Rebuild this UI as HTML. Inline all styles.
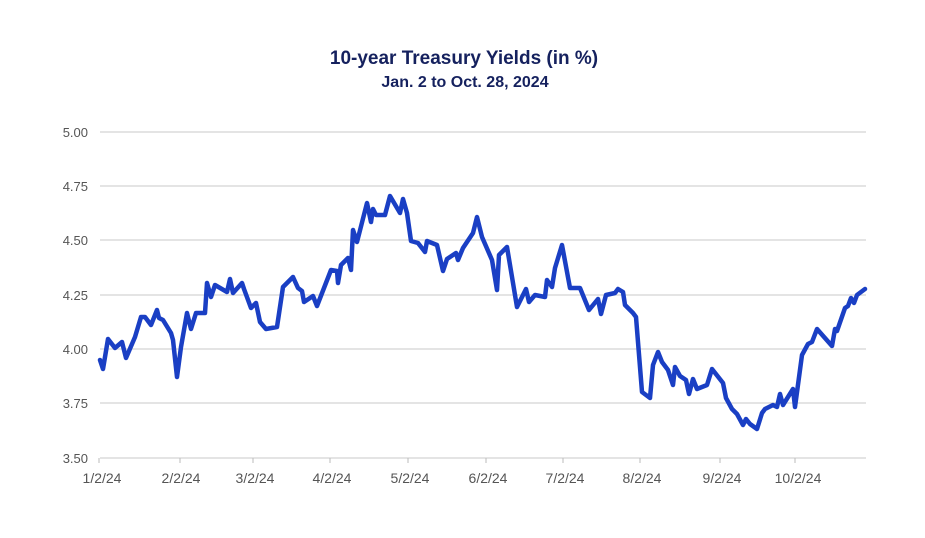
<!DOCTYPE html>
<html><head><meta charset="utf-8"><style>
body{margin:0;background:#fff;width:925px;height:533px;overflow:hidden;font-family:"Liberation Sans",sans-serif}
</style></head><body>
<svg width="925" height="533" xmlns="http://www.w3.org/2000/svg">
<text x="464" y="64" text-anchor="middle" font-size="19" font-weight="bold" fill="#15215e" font-family="Liberation Sans, sans-serif">10-year Treasury Yields (in %)</text>
<text x="465" y="87" text-anchor="middle" font-size="16" font-weight="bold" fill="#15215e" font-family="Liberation Sans, sans-serif">Jan. 2 to Oct. 28, 2024</text>
<g stroke="#dcdcdc" stroke-width="1.5">
<line x1="100" x2="866" y1="132" y2="132"/><line x1="100" x2="866" y1="186" y2="186"/><line x1="100" x2="866" y1="240" y2="240"/><line x1="100" x2="866" y1="295" y2="295"/><line x1="100" x2="866" y1="349" y2="349"/><line x1="100" x2="866" y1="403" y2="403"/><line x1="100" x2="866" y1="458" y2="458"/>
</g>
<g stroke="#bbb" stroke-width="1"><line x1="99" x2="99" y1="458" y2="463"/><line x1="180" x2="180" y1="458" y2="463"/><line x1="253" x2="253" y1="458" y2="463"/><line x1="330" x2="330" y1="458" y2="463"/><line x1="408" x2="408" y1="458" y2="463"/><line x1="486" x2="486" y1="458" y2="463"/><line x1="563" x2="563" y1="458" y2="463"/><line x1="640" x2="640" y1="458" y2="463"/><line x1="720" x2="720" y1="458" y2="463"/><line x1="795" x2="795" y1="458" y2="463"/></g>
<g font-size="13" fill="#555" text-anchor="end" font-family="Liberation Sans, sans-serif">
<text x="88" y="137">5.00</text><text x="88" y="191">4.75</text><text x="88" y="245">4.50</text><text x="88" y="300">4.25</text><text x="88" y="354">4.00</text><text x="88" y="408">3.75</text><text x="88" y="463">3.50</text>
</g>
<g font-size="14" fill="#555" text-anchor="middle" font-family="Liberation Sans, sans-serif">
<text x="102" y="483">1/2/24</text><text x="181" y="483">2/2/24</text><text x="255" y="483">3/2/24</text><text x="332" y="483">4/2/24</text><text x="410" y="483">5/2/24</text><text x="488" y="483">6/2/24</text><text x="565" y="483">7/2/24</text><text x="642" y="483">8/2/24</text><text x="722" y="483">9/2/24</text><text x="798" y="483">10/2/24</text>
</g>
<polyline fill="none" stroke="#1a3fc4" stroke-width="4.5" stroke-linejoin="round" stroke-linecap="round" points="100,360 103,369 108,339 115,348 122,342 126,358 135,337 141,317 145,317 151,325 157,310 159,318 163,320 171,333 173,340 177,377 181,347 187,313 191,329 196,313 205,313 207,283 211,297 215,285 227,292 230,279 233,293 242,283 244,289 251,308 256,303 260,322 266,329 277,327 283,287 293,277 298,288 302,291 304,302 313,296 317,306 331,270 337,271 338,283 341,265 348,258 351,270 353,230 357,242 367,203 371,222 373,209 376,215 385,215 390,196 400,213 403,199 407,213 411,241 418,243 425,252 427,241 437,245 443,271 447,259 456,253 458,260 463,248 473,233 477,217 482,237 492,260 497,290 499,255 507,247 517,307 526,289 529,302 535,295 545,297 547,280 552,287 555,268 562,245 570,288 580,288 589,310 598,299 601,314 606,295 615,293 618,289 623,292 625,305 633,313 636,317 642,392 650,398 653,365 658,352 662,362 668,370 673,385 675,367 680,376 686,380 689,394 693,379 697,389 707,385 712,369 723,383 726,398 732,409 737,414 743,425 746,419 750,424 757,429 762,413 765,409 773,405 777,407 780,394 783,405 793,389 795,407 802,355 808,344 812,342 817,329 832,346 835,329 837,331 845,308 848,306 851,298 854,303 857,295 865,289"/>
</svg>
</body></html>
